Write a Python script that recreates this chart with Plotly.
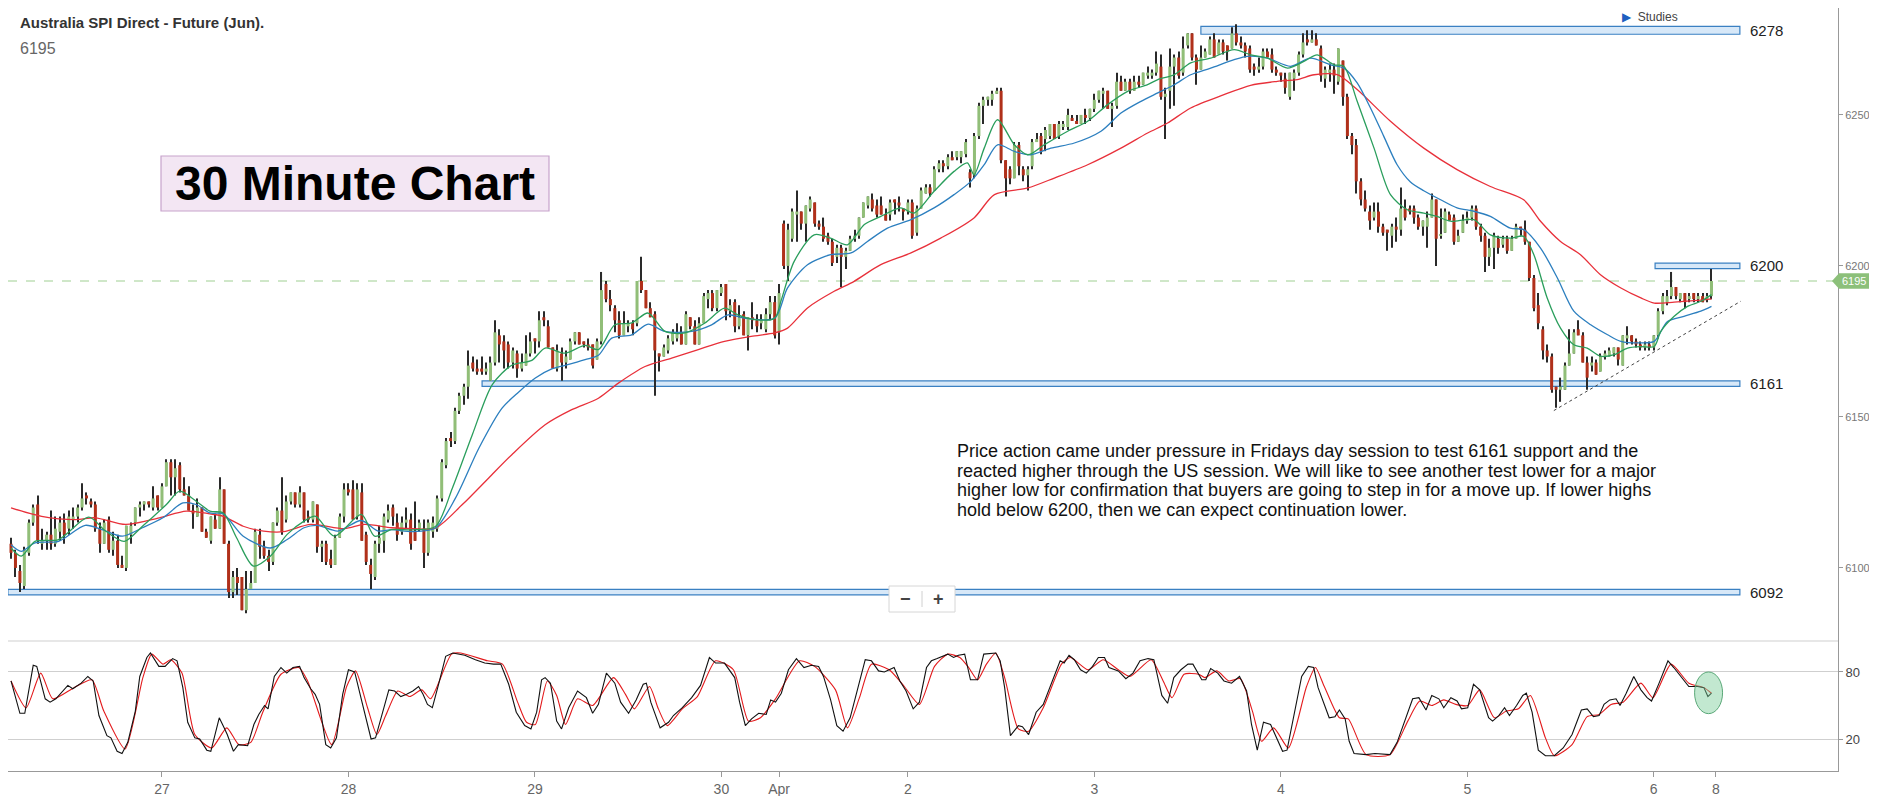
import plotly.graph_objects as go

# ---------------------------------------------------------------
# Australia SPI Direct - Future (Jun), 30 minute bars
# bar index 0..383, left to right
# ---------------------------------------------------------------
opens = [
    6108, 6105, 6099, 6094, 6105, 6115, 6121, 6108, 6109, 6111,
    6108, 6112, 6115, 6113, 6116, 6117, 6120, 6124, 6122, 6121,
    6113, 6108, 6116, 6106, 6109, 6101, 6100, 6111, 6115, 6120,
    6121, 6122, 6120, 6124, 6120, 6127, 6135, 6130, 6134, 6126,
    6124, 6119, 6117, 6120, 6112, 6109, 6116, 6113, 6126, 6108,
    6092, 6097, 6097, 6086, 6093, 6095, 6111, 6107, 6104, 6102,
    6115, 6119, 6116, 6122, 6125, 6121, 6125, 6117, 6116, 6121,
    6107, 6108, 6103, 6101, 6110, 6117, 6126, 6126, 6117, 6125,
    6111, 6101, 6097, 6108, 6109,
    6116, 6120, 6115, 6112, 6115, 6116, 6112, 6113, 6113, 6105,
    6112, 6113, 6123, 6134, 6143, 6142, 6152, 6157, 6160, 6168,
    6166, 6166, 6165, 6162, 6168, 6177, 6175, 6174, 6168, 6171,
    6166, 6167, 6171, 6176, 6175, 6183, 6180, 6173, 6166, 6171,
    6168, 6169, 6175, 6178, 6175, 6174, 6174, 6169, 6175, 6194,
    6189, 6186, 6182, 6177, 6180, 6181, 6181, 6195, 6192, 6186,
    6184, 6171, 6170, 6172, 6175, 6176, 6178, 6174, 6183, 6180,
    6174, 6181, 6189, 6191, 6186, 6191, 6194, 6185, 6188, 6180,
    6184, 6177, 6183, 6182, 6181, 6179, 6184, 6188,
    6178, 6214, 6200, 6209, 6217, 6218, 6214, 6219, 6221, 6214,
    6213, 6210, 6208, 6203, 6206, 6203, 6205, 6209, 6210, 6216,
    6220, 6222, 6220, 6220, 6217, 6217, 6222, 6221, 6219, 6218,
    6221, 6211, 6219, 6224, 6226, 6225, 6232, 6234, 6233, 6236,
    6236, 6236, 6237, 6231, 6230, 6243, 6253, 6255, 6255, 6257,
    6258, 6235, 6232, 6229, 6240, 6232, 6230, 6233, 6241, 6243,
    6242, 6243, 6247, 6243, 6246, 6246, 6249, 6248, 6247, 6250,
    6249, 6252, 6255, 6257, 6258, 6252, 6253, 6261, 6258, 6261,
    6258, 6261, 6260, 6263, 6263, 6264, 6266, 6256,
    6258, 6266, 6269, 6264, 6273, 6277, 6269, 6265, 6269, 6270,
    6275, 6270, 6274, 6273, 6272, 6277, 6274, 6273, 6272, 6266,
    6265, 6266, 6271, 6270, 6265, 6264, 6262, 6256, 6262, 6264,
    6270, 6275, 6274, 6275, 6272, 6262, 6264, 6265, 6261, 6268,
    6256, 6243, 6240, 6228, 6222, 6218, 6216, 6218, 6213, 6212,
    6210, 6213, 6212, 6219, 6219, 6219, 6216, 6213, 6213, 6216,
    6222, 6210, 6211, 6217, 6216, 6208, 6211, 6215, 6216, 6219,
    6213, 6210, 6203, 6206, 6209, 6207, 6209, 6205, 6209, 6213,
    6212, 6208, 6196,
    6187, 6179, 6172, 6170, 6160, 6159, 6159, 6167, 6171, 6179,
    6177, 6168, 6167, 6168, 6165, 6170, 6170, 6171, 6173, 6167,
    6176, 6177, 6175, 6174, 6173, 6174, 6173, 6177, 6185, 6188,
    6190, 6193, 6189, 6191, 6189, 6191, 6189, 6190, 6189, 6190,
]
highs = [
    6110, 6106, 6101, 6107, 6116, 6121, 6124, 6113, 6112, 6119,
    6117, 6117, 6118, 6119, 6120, 6121, 6128, 6125, 6123, 6122,
    6115, 6116, 6117, 6112, 6111, 6104, 6114, 6115, 6120, 6122,
    6122, 6122, 6127, 6124, 6128, 6136, 6136, 6136, 6135, 6130,
    6127, 6121, 6123, 6120, 6113, 6117, 6118, 6130, 6126, 6109,
    6099, 6100, 6097, 6099, 6099, 6113, 6113, 6109, 6106, 6115,
    6120, 6130, 6124, 6125, 6125, 6127, 6125, 6119, 6122, 6121,
    6109, 6109, 6106, 6111, 6118, 6128, 6128, 6129, 6128, 6128,
    6112, 6103, 6109, 6114, 6118,
    6121, 6121, 6118, 6117, 6120, 6118, 6122, 6116, 6116, 6116,
    6117, 6124, 6136, 6143, 6145, 6153, 6158, 6161, 6172, 6170,
    6169, 6170, 6168, 6170, 6182, 6179, 6177, 6175, 6173, 6172,
    6171, 6177, 6178, 6176, 6185, 6185, 6182, 6173, 6174, 6173,
    6172, 6176, 6178, 6178, 6175, 6176, 6174, 6176, 6198, 6195,
    6192, 6187, 6185, 6185, 6182, 6182, 6195, 6203, 6192, 6188,
    6185, 6171, 6174, 6177, 6179, 6181, 6180, 6185, 6183, 6182,
    6183, 6191, 6192, 6192, 6192, 6194, 6194, 6189, 6189, 6187,
    6185, 6183, 6188, 6184, 6184, 6186, 6190, 6190,
    6194, 6215, 6214, 6219, 6225, 6218, 6220, 6223, 6221, 6215,
    6216, 6211, 6209, 6207, 6207, 6206, 6210, 6212, 6216, 6221,
    6223, 6224, 6222, 6223, 6219, 6222, 6222, 6223, 6219, 6222,
    6222, 6220, 6226, 6227, 6227, 6233, 6235, 6235, 6237, 6238,
    6238, 6238, 6242, 6232, 6244, 6254, 6256, 6256, 6258, 6259,
    6259, 6235, 6233, 6241, 6241, 6233, 6233, 6242, 6244, 6244,
    6246, 6247, 6247, 6248, 6248, 6252, 6250, 6250, 6250, 6252,
    6252, 6257, 6258, 6259, 6258, 6254, 6264, 6263, 6262, 6262,
    6263, 6263, 6264, 6266, 6265, 6271, 6270, 6259,
    6272, 6270, 6271, 6276, 6277, 6277, 6270, 6273, 6272, 6276,
    6277, 6275, 6275, 6273, 6279, 6280, 6276, 6274, 6273, 6267,
    6269, 6272, 6272, 6272, 6266, 6264, 6264, 6264, 6265, 6271,
    6277, 6278, 6278, 6277, 6273, 6266, 6267, 6267, 6272, 6268,
    6257, 6244, 6242, 6229, 6225, 6220, 6221, 6221, 6214, 6212,
    6214, 6216, 6226, 6222, 6220, 6220, 6217, 6215, 6218, 6224,
    6222, 6219, 6219, 6218, 6217, 6212, 6217, 6218, 6220, 6220,
    6214, 6211, 6209, 6211, 6210, 6210, 6210, 6210, 6214, 6213,
    6215, 6208, 6197,
    6191, 6180, 6174, 6171, 6160, 6163, 6168, 6179, 6179, 6182,
    6178, 6170, 6170, 6169, 6171, 6172, 6173, 6173, 6173, 6177,
    6180, 6177, 6176, 6175, 6175, 6175, 6177, 6186, 6191, 6192,
    6198, 6193, 6191, 6191, 6191, 6191, 6191, 6191, 6191, 6199,
]
lows = [
    6103, 6097, 6092, 6093, 6104, 6114, 6108, 6106, 6106, 6106,
    6107, 6109, 6108, 6111, 6113, 6115, 6119, 6121, 6120, 6112,
    6105, 6108, 6105, 6104, 6100, 6100, 6099, 6108, 6114, 6117,
    6119, 6120, 6119, 6119, 6120, 6127, 6124, 6124, 6125, 6124,
    6119, 6113, 6117, 6112, 6110, 6108, 6113, 6113, 6108, 6090,
    6090, 6091, 6086, 6085, 6093, 6095, 6103, 6103, 6099, 6101,
    6114, 6111, 6115, 6121, 6120, 6120, 6115, 6115, 6115, 6105,
    6102, 6101, 6100, 6101, 6110, 6115, 6124, 6116, 6116, 6109,
    6101, 6093, 6096, 6105, 6105,
    6115, 6114, 6109, 6111, 6113, 6106, 6109, 6112, 6100, 6104,
    6110, 6112, 6122, 6133, 6140, 6141, 6151, 6154, 6156, 6165,
    6164, 6164, 6164, 6162, 6167, 6168, 6166, 6166, 6166, 6163,
    6165, 6167, 6170, 6171, 6173, 6180, 6173, 6166, 6165, 6162,
    6166, 6169, 6174, 6174, 6173, 6172, 6166, 6169, 6174, 6188,
    6185, 6178, 6176, 6177, 6178, 6177, 6180, 6191, 6186, 6183,
    6157, 6165, 6170, 6171, 6174, 6175, 6174, 6174, 6179, 6174,
    6174, 6181, 6186, 6185, 6185, 6190, 6182, 6183, 6178, 6179,
    6177, 6172, 6179, 6178, 6179, 6178, 6182, 6176,
    6174, 6199, 6195, 6208, 6208, 6212, 6208, 6218, 6213, 6212,
    6208, 6207, 6200, 6201, 6193, 6199, 6205, 6208, 6209, 6216,
    6219, 6218, 6216, 6217, 6215, 6215, 6217, 6218, 6215, 6217,
    6209, 6210, 6219, 6224, 6223, 6225, 6231, 6231, 6232, 6235,
    6235, 6234, 6236, 6226, 6229, 6242, 6247, 6253, 6253, 6257,
    6234, 6223, 6227, 6229, 6230, 6228, 6225, 6232, 6241, 6237,
    6238, 6242, 6242, 6242, 6245, 6245, 6248, 6247, 6247, 6247,
    6248, 6251, 6254, 6252, 6252, 6246, 6252, 6258, 6258, 6257,
    6258, 6259, 6260, 6262, 6262, 6263, 6255, 6242,
    6252, 6253, 6262, 6263, 6272, 6268, 6260, 6265, 6269, 6270,
    6269, 6270, 6270, 6268, 6272, 6273, 6272, 6269, 6264, 6263,
    6264, 6265, 6269, 6264, 6263, 6261, 6257, 6255, 6258, 6263,
    6269, 6273, 6274, 6273, 6261, 6259, 6261, 6257, 6260, 6253,
    6242, 6237, 6224, 6220, 6218, 6212, 6215, 6211, 6210, 6205,
    6206, 6208, 6210, 6215, 6217, 6214, 6212, 6210, 6206, 6216,
    6200, 6209, 6211, 6215, 6207, 6208, 6211, 6214, 6215, 6212,
    6208, 6198, 6200, 6199, 6204, 6206, 6204, 6205, 6209, 6210,
    6207, 6195, 6185,
    6179, 6169, 6168, 6158, 6153, 6155, 6159, 6167, 6171, 6177,
    6168, 6159, 6165, 6164, 6165, 6169, 6170, 6170, 6167, 6167,
    6174, 6174, 6173, 6172, 6172, 6172, 6172, 6176, 6184, 6187,
    6189, 6189, 6188, 6186, 6188, 6188, 6188, 6188, 6188, 6189,
]
closes = [
    6105, 6100, 6095, 6106, 6115, 6120, 6109, 6109, 6111, 6108,
    6113, 6115, 6111, 6117, 6117, 6120, 6123, 6123, 6121, 6113,
    6108, 6115, 6106, 6109, 6101, 6100, 6114, 6114, 6120, 6121,
    6122, 6121, 6123, 6120, 6127, 6135, 6130, 6133, 6126, 6124,
    6119, 6118, 6120, 6112, 6110, 6117, 6113, 6126, 6108, 6092,
    6097, 6095, 6086, 6093, 6095, 6112, 6107, 6104, 6102, 6115,
    6119, 6112, 6122, 6125, 6121, 6125, 6116, 6116, 6122, 6107,
    6108, 6102, 6101, 6110, 6117, 6126, 6125, 6116, 6126, 6109,
    6102, 6098, 6108, 6110, 6117,
    6119, 6117, 6111, 6115, 6116, 6108, 6109, 6115, 6105, 6115,
    6115, 6123, 6135, 6142, 6142, 6152, 6157, 6160, 6167, 6166,
    6165, 6165, 6166, 6168, 6178, 6174, 6172, 6168, 6172, 6166,
    6168, 6171, 6175, 6175, 6182, 6182, 6173, 6166, 6172, 6168,
    6170, 6175, 6178, 6174, 6174, 6173, 6167, 6175, 6192, 6189,
    6187, 6182, 6177, 6181, 6181, 6179, 6195, 6192, 6186, 6183,
    6172, 6170, 6173, 6176, 6178, 6178, 6174, 6184, 6180, 6174,
    6181, 6190, 6191, 6186, 6192, 6193, 6185, 6187, 6180, 6183,
    6177, 6183, 6182, 6180, 6182, 6184, 6188, 6177,
    6191, 6200, 6212, 6218, 6218, 6214, 6220, 6222, 6214, 6213,
    6209, 6208, 6201, 6206, 6203, 6205, 6209, 6210, 6216, 6221,
    6223, 6219, 6217, 6217, 6215, 6221, 6221, 6220, 6218, 6221,
    6210, 6219, 6225, 6226, 6224, 6232, 6234, 6233, 6236, 6235,
    6238, 6238, 6241, 6229, 6243, 6253, 6255, 6256, 6257, 6258,
    6235, 6229, 6229, 6240, 6233, 6230, 6232, 6241, 6242, 6238,
    6245, 6247, 6242, 6247, 6247, 6250, 6248, 6247, 6250, 6249,
    6252, 6255, 6258, 6258, 6252, 6253, 6261, 6258, 6261, 6258,
    6261, 6260, 6264, 6264, 6264, 6267, 6256, 6257,
    6266, 6269, 6263, 6272, 6277, 6269, 6265, 6269, 6271, 6275,
    6269, 6274, 6271, 6271, 6277, 6274, 6273, 6271, 6265, 6265,
    6266, 6271, 6269, 6265, 6264, 6263, 6259, 6264, 6264, 6270,
    6274, 6274, 6275, 6273, 6263, 6265, 6265, 6263, 6272, 6256,
    6243, 6240, 6228, 6222, 6219, 6215, 6218, 6213, 6211, 6211,
    6213, 6212, 6219, 6216, 6218, 6216, 6213, 6215, 6216, 6222,
    6209, 6210, 6218, 6215, 6208, 6210, 6215, 6216, 6219, 6213,
    6210, 6203, 6206, 6210, 6206, 6209, 6205, 6209, 6213, 6212,
    6208, 6196, 6186,
    6181, 6172, 6170, 6159, 6159, 6160, 6167, 6171, 6178, 6177,
    6168, 6163, 6168, 6164, 6170, 6171, 6172, 6173, 6169, 6177,
    6177, 6175, 6174, 6173, 6174, 6173, 6177, 6185, 6190, 6190,
    6193, 6190, 6191, 6188, 6190, 6189, 6190, 6188, 6190, 6195,
]

# moving averages (bar position, price)
ma_fast_x = [0, 2.3, 5.4, 10.7, 17.5, 21.3, 25.5, 29.6, 35.0, 38.0, 41.7, 44.8, 47.8, 50.8, 54.6,
             58.4, 62.2, 66.0, 68.6, 72.8, 78.9, 81.9, 85.7, 90.4, 95.6, 99.4, 103.9, 108.4, 112.8,
             117.3, 120.3, 124.8, 129.3, 132.3, 136.0, 139.8, 143.5, 147.3, 151.8, 156.3, 160.7,
             163.7, 167.5, 172.0, 173.4, 176.4, 180.9, 184.6, 188.4, 192.2, 195.9, 200.4, 203.4,
             207.9, 212.4, 215.4, 216.9, 219.2, 222.2, 226.0, 229.0, 232.7, 238.0, 242.5, 247.0,
             251.5, 256.0, 258.3, 262.0, 265.7, 270.2, 275.5, 279.2, 283.0, 287.5, 291.2, 294.2,
             298.0, 300.2, 303.2, 307.0, 310.7, 314.5, 318.2, 321.2, 324.2, 329.5, 333.2, 337.7,
             340.7, 343.0, 346.0, 349.0, 352.0, 355.0, 358.0, 361.1, 364.1, 367.1, 370.1, 371.6,
             374.6, 377.6, 380.6, 383.0]
ma_fast = [6106.6, 6103.9, 6108.8, 6109.4, 6116.8, 6112.2, 6108.8, 6113.8, 6121.0, 6125.4, 6122.1,
           6118.8, 6118.2, 6110.0, 6100.6, 6103.9, 6111.1, 6115.5, 6117.1, 6110.5, 6117.7, 6110.5,
           6112.7, 6112.6, 6113.7, 6126.4, 6144.1, 6160.7, 6167.1, 6168.7, 6172.8, 6171.1, 6173.7,
           6172.3, 6180.5, 6181.1, 6184.4, 6178.3, 6177.8, 6181.1, 6186.0, 6183.8, 6182.2, 6182.7,
           6188.3, 6201.5, 6210.3, 6209.2, 6207.0, 6213.7, 6216.4, 6219.2, 6217.5, 6224.7, 6231.3,
           6234.1, 6230.2, 6239.0, 6248.4, 6240.1, 6236.8, 6240.1, 6244.6, 6247.9, 6253.4, 6257.8,
           6260.0, 6261.7, 6263.3, 6267.2, 6268.8, 6271.6, 6269.9, 6268.8, 6265.5, 6267.7, 6269.9,
           6266.6, 6266.1, 6254.5, 6239.0, 6223.6, 6218.6, 6217.5, 6216.4, 6214.8, 6215.3, 6210.3,
           6209.2, 6209.8, 6203.7, 6189.4, 6179.4, 6173.9, 6172.8, 6170.1, 6170.6, 6172.8, 6173.3,
           6173.3, 6178.3, 6183.3, 6186.6, 6188.3, 6190.5]

ma_mid_x = [0, 2.3, 5.4, 10.7, 16.7, 20.5, 25.1, 29.6, 34.2, 38.7, 41.7, 44.8, 47.8, 52.3, 58.4,
            62.2, 66.0, 69.0, 73.6, 78.9, 82.7, 85.7, 90.4, 95.6, 100.1, 105.4, 110.6, 114.3, 118.1,
            121.8, 124.8, 129.3, 132.3, 135.3, 139.8, 143.5, 147.3, 153.3, 157.8, 161.5, 165.2,
            172.0, 174.9, 179.4, 184.6, 189.2, 192.9, 197.4, 202.7, 207.9, 212.4, 216.2, 219.2,
            222.2, 226.0, 229.7, 234.2, 239.5, 245.5, 250.0, 254.5, 258.3, 262.0, 265.7, 270.2,
            275.5, 278.5, 283.0, 288.2, 292.7, 297.2, 300.2, 303.2, 306.2, 309.2, 312.2, 315.2,
            318.2, 322.0, 325.7, 329.5, 333.2, 337.7, 340.7, 344.5, 348.3, 352.0, 355.8, 359.6,
            362.6, 367.1, 370.1, 373.1, 376.8, 380.6, 383.0]
ma_mid = [6107.7, 6105.5, 6108.3, 6108.8, 6114.1, 6112.7, 6110.5, 6113.3, 6116.6, 6121.5, 6121.0,
          6118.2, 6117.9, 6110.5, 6106.6, 6109.4, 6113.3, 6114.1, 6112.2, 6115.7, 6112.2, 6112.7,
          6112.0, 6113.2, 6123.1, 6139.7, 6152.9, 6158.2, 6162.9, 6165.9, 6167.1, 6169.0, 6170.4,
          6176.1, 6177.2, 6180.7, 6178.3, 6178.3, 6180.5, 6183.8, 6182.7, 6182.7, 6192.7, 6200.4,
          6203.7, 6204.3, 6208.1, 6212.5, 6215.3, 6219.2, 6223.6, 6228.0, 6233.5, 6240.1, 6237.9,
          6236.8, 6239.0, 6240.7, 6244.6, 6250.6, 6254.5, 6257.3, 6260.0, 6263.3, 6265.5, 6268.3,
          6269.4, 6268.8, 6266.1, 6268.8, 6266.6, 6265.5, 6260.6, 6252.3, 6242.9, 6233.5, 6227.8,
          6224.9, 6221.9, 6219.2, 6218.1, 6216.4, 6212.5, 6212.0, 6205.9, 6196.0, 6185.0, 6180.5,
          6177.2, 6175.0, 6174.5, 6175.0, 6181.6, 6183.3, 6185.0, 6186.6]

ma_slow_x = [0, 6.9, 14.5, 19.0, 25.8, 33.4, 39.5, 44.8, 47.8, 52.3, 56.9, 61.4, 67.5, 75.1, 79.6,
             85.7, 90.4, 95.6, 101.6, 107.6, 112.8, 120.3, 126.3, 132.3, 136.8, 142.8, 148.8,
             154.8, 160.7, 166.7, 172.0, 174.9, 179.4, 185.4, 189.9, 195.9, 202.7, 209.4, 216.9,
             221.5, 229.0, 235.0, 242.5, 250.0, 256.0, 260.5, 265.7, 273.2, 279.2, 285.2, 289.7,
             293.5, 298.7, 303.2, 310.7, 318.2, 325.7, 333.2, 340.7, 344.5, 349.0, 353.5, 358.0,
             362.6, 367.1, 370.1, 374.6, 379.1, 383.0]
ma_slow = [6119.9, 6117.1, 6116.0, 6116.6, 6114.4, 6116.6, 6118.8, 6117.9, 6117.1, 6113.8, 6112.2,
           6112.0, 6114.4, 6113.0, 6114.4, 6113.3, 6113.0, 6113.2, 6120.9, 6129.8, 6137.5, 6147.4,
           6152.4, 6156.2, 6161.2, 6166.7, 6169.5, 6172.3, 6175.0, 6176.7, 6177.8, 6179.4, 6186.1,
           6191.6, 6194.9, 6200.4, 6204.3, 6209.2, 6215.9, 6223.6, 6225.8, 6229.1, 6233.5, 6239.0,
           6244.0, 6247.3, 6252.3, 6256.7, 6259.8, 6261.1, 6261.7, 6263.3, 6263.3, 6258.4, 6247.9,
           6239.0, 6231.9, 6226.3, 6221.9, 6214.8, 6208.1, 6203.7, 6197.1, 6192.7, 6189.4, 6187.7,
           6188.0, 6188.5, 6189.1]

# stochastic oscillator (%K black, %D red), vertices
stoch_k_x = [0, 2.0, 3.1, 5.0, 5.8, 7.7, 8.8, 10.1, 12.8, 13.9,
             15.8, 17.3, 18.5, 19.8, 21.6, 22.5, 23.9, 25.0, 26.3, 28.0,
             29.0, 30.6, 31.4, 33.3, 34.7, 36.4, 37.4, 38.7, 39.8, 41.4,
             42.5, 44.1, 45.0, 46.9, 48.0, 48.7, 50.1, 51.2, 53.3, 54.7,
             55.8, 57.1, 57.9, 59.3, 60.8, 62.1, 63.5, 65.0, 66.0, 67.5,
             68.5, 69.5, 70.9, 72.0, 73.3, 74.7, 76.0, 77.4, 79.0, 80.1,
             81.1, 82.1, 83.7, 85.1, 86.4, 87.8, 89.1, 90.5, 91.8, 92.8,
             93.8, 94.9, 96.3, 97.9, 99.5, 101.3, 102.2, 104.6, 106.7, 108.7,
             110.3, 112.1, 113.8, 115.7, 117.1, 118.4, 119.5, 120.3, 121.5, 122.9,
             124.0, 125.6, 127.6, 129.6, 131.0, 132.3, 134.1, 136.0, 137.3, 139.1,
             140.8, 142.4, 143.1, 144.1, 146.2, 148.1, 149.2, 151.2, 153.3, 155.3,
             157.3, 158.7, 160.7, 163.0, 164.1, 165.4, 166.8, 168.4, 170.1, 171.1,
             172.2, 173.5, 175.1, 176.9, 178.6, 180.3, 181.9, 183.0, 184.6, 186.0,
             187.4, 189.0, 190.8, 192.4, 193.8, 195.4, 196.7, 198.9, 200.2, 201.6,
             203.2, 204.6, 206.2, 207.3, 208.6, 211.0,
             212.3, 213.4, 214.8, 216.1, 217.7, 219.1, 221.8, 222.8, 223.8, 225.1,
             226.9, 227.8, 229.2, 230.9, 232.5, 234.6, 236.3, 237.2, 238.3, 239.5,
             240.9, 242.2, 243.6, 244.9, 246.3, 247.3, 249.4, 251.1, 252.7, 254.3,
             256.1, 257.4, 259.2, 260.5, 261.9, 263.5, 265.1, 266.2, 268.2, 269.1,
             270.2, 271.8, 273.2, 274.9, 276.7, 278.3, 279.4, 280.7, 282.1, 283.7,
             285.0, 286.4, 287.4, 289.1, 290.7, 292.2, 293.4, 294.4, 296.9, 298.2,
             299.2, 300.5, 301.4, 302.5, 305.2, 307.2, 310.6, 312.2, 313.6, 315.7,
             317.1, 318.7, 320.0, 321.6, 322.7, 324.3, 325.7, 326.7, 328.1, 329.4,
             330.8, 332.8, 333.7, 335.1, 336.4, 337.5, 339.1, 340.5, 341.3, 342.6,
             344.0, 345.6, 347.6, 349.6, 351.6, 353.7, 355.0, 356.4, 357.7, 358.8,
             360.1, 361.5, 362.4, 363.8, 365.5, 367.1, 368.5, 369.5, 371.2, 372.5,
             373.2, 374.5, 376.3, 377.9, 379.9, 381.3, 382.2, 383.0]
stoch_k = [72, 43, 43, 86, 85, 56, 53, 56, 68, 65,
           70, 76, 72, 41, 23, 21, 9, 7, 17, 45,
           76, 93, 97, 85, 85, 92, 90, 66, 35, 21,
           20, 10, 9, 39, 30, 24, 9, 15, 14, 33,
           42, 50, 47, 76, 84, 79, 84, 85, 75, 65,
           60, 51, 15, 12, 21, 60, 82, 80, 54, 35,
           20, 21, 44, 64, 63, 58, 60, 63, 67, 60,
           51, 48, 69, 94, 97, 96, 95, 91, 88, 87,
           87, 69, 44, 32, 29, 44, 73, 75, 70, 36,
           29, 48, 63, 57, 43, 51, 79, 70, 53, 43,
           55, 69, 70, 53, 30, 35, 41, 48, 57, 68,
           93, 88, 88, 75, 53, 32, 38, 43, 42, 55,
           53, 61, 82, 92, 84, 86, 85, 76, 55, 32,
           27, 39, 67, 91, 90, 81, 80, 84, 72, 63,
           47, 53, 84, 90, 92, 96,
           93, 95, 96, 73, 73, 96, 97, 90, 66, 23,
           32, 31, 24, 44, 51, 72, 90, 88, 95, 91,
           82, 79, 85, 93, 93, 84, 81, 74, 79, 90,
           92, 91, 59, 52, 75, 82, 87, 87, 73, 73,
           83, 79, 72, 70, 76, 63, 33, 10, 35, 33,
           21, 9, 10, 45, 76, 85, 84, 66, 39, 40,
           46, 38, 18, 7, 6, 7, 6, 17, 33, 56,
           57, 46, 59, 56, 48, 57, 54, 47, 48, 69,
           64, 39, 36, 41, 48, 41, 50, 59, 61, 44,
           10, 5, 5, 12, 24, 46, 47, 40, 41, 51,
           55, 56, 50, 61, 76, 64, 57, 54, 70, 84,
           90, 84, 75, 67, 67, 66, 58, 61]
stoch_d_x = [0, 3.4, 6.7, 9.4, 14.2, 18.2, 20.9, 25.7, 29.7, 31.7,
             34.2, 36.0, 38.5, 41.4, 45.2, 48.6, 51.3, 54.0, 56.7, 60.8,
             64.8, 66.8, 72.2, 75.6, 77.6, 80.3, 82.4, 84.4, 87.1, 89.8,
             92.5, 94.5, 99.2, 101.3, 107.3, 110.7, 114.1, 116.1, 118.1, 120.8,
             122.9, 124.9, 127.6, 131.0, 135.7, 138.4, 140.4, 143.8, 145.8, 147.8,
             151.2, 154.6, 158.7, 162.7, 166.1, 168.8, 172.2, 177.6, 181.0, 185.7,
             188.4, 191.1, 193.8, 197.8, 201.2, 204.6, 208.0, 211.0,
             213.7, 215.7, 217.7, 219.7, 221.8, 223.8, 226.9, 229.2, 232.5, 236.6,
             238.6, 242.6, 246.0, 249.4, 252.0, 256.8, 259.5, 261.5, 264.2, 267.5,
             268.9, 271.6, 274.3, 276.9, 279.6, 281.7, 284.4, 287.7, 291.8, 293.8,
             295.8, 299.2, 301.2, 305.2, 310.6, 314.6, 317.3, 320.0, 322.7, 325.4,
             328.1, 330.8, 334.1, 336.8, 339.5, 342.2, 345.6, 347.6, 351.6, 355.0,
             357.7, 360.4, 363.1, 367.1, 369.8, 373.9, 377.9, 381.3, 383.0]
stoch_d = [72, 48, 79, 56, 66, 73, 45, 11, 75, 96,
           87, 91, 79, 24, 12, 30, 15, 17, 44, 78,
           84, 72, 15, 67, 81, 48, 24, 41, 63, 58,
           64, 56, 96, 97, 90, 87, 53, 35, 33, 72,
           59, 33, 56, 50, 75, 60, 47, 67, 47, 32,
           47, 58, 90, 82, 36, 39, 56, 90, 85, 64,
           30, 57, 87, 82, 67, 51, 85, 96,
           93, 84, 73, 87, 97, 75, 29, 27, 48, 87,
           93, 82, 91, 82, 76, 91, 72, 57, 78, 78,
           75, 81, 72, 74, 45, 18, 30, 12, 67, 84,
           67, 39, 38, 6, 6, 36, 54, 50, 55, 51,
           50, 64, 39, 45, 47, 59, 21, 5, 15, 40,
           42, 51, 53, 70, 57, 87, 70, 66, 61]

# drawn levels: value, first bar of the box
levels = [6278, 6200, 6161, 6092]
level_from = [268.0, 370.3, 106.1, -0.7]
level_to = 389.4
last_price = 6195

# dotted rising trend line under the lows
trend_x = [347.5, 389.6]
trend_y = [6152.1, 6188.3]

# session tick labels
tick_pos = [34, 76, 118, 160, 173, 202, 244, 286, 328, 370, 384]
tick_text = ["27", "28", "29", "30", "Apr", "2", "3", "4", "5", "6", "8"]

commentary = [
    "Price action came under pressure in Fridays day session to test 6161 support and the",
    "reacted higher through the US session. We will like to see another test lower for a major",
    "higher low for confirmation that buyers are going to step in for a move up. If lower highs",
    "hold below 6200, then we can expect continuation lower.",
]

# ---------------------------------------------------------------
PLOT_W, PLOT_H = 1830, 763
SPLIT = 130 / PLOT_H          # stochastic panel height share

FONT = "Liberation Sans, Arial, sans-serif"
FONT_NARROW = "Liberation Sans Narrow, Liberation Sans, Arial, sans-serif"

UP_COLOR = "#91be78"
DOWN_COLOR = "#b0301a"


def px(x):
    return x / PLOT_W


def py(y):
    return 1 - y / PLOT_H


idx = list(range(len(closes)))
body_base = [min(o, c) for o, c in zip(opens, closes)]
body_len = [max(abs(c - o), 0.4) for o, c in zip(opens, closes)]
body_col = [UP_COLOR if c >= o else DOWN_COLOR for o, c in zip(opens, closes)]
wick_len = [h - l for h, l in zip(highs, lows)]

fig = go.Figure()

fig.add_trace(go.Bar(x=idx, y=wick_len, base=lows, width=0.24,
                     marker=dict(color="#2a2a2a", line_width=0), hoverinfo="skip"))
fig.add_trace(go.Bar(x=idx, y=body_len, base=body_base, width=0.68,
                     marker=dict(color=body_col, line_width=0), hoverinfo="skip"))

for xs, ys, col in [(ma_slow_x, ma_slow, "#e8303a"),
                    (ma_mid_x, ma_mid, "#2c7fbf"),
                    (ma_fast_x, ma_fast, "#2a9e5c")]:
    fig.add_trace(go.Scatter(x=xs, y=ys, mode="lines",
                             line=dict(color=col, width=1.3, shape="spline", smoothing=0.8),
                             hoverinfo="skip"))

fig.add_trace(go.Scatter(x=trend_x, y=trend_y, mode="lines",
                         line=dict(color="#444", width=1, dash="dot"), hoverinfo="skip"))

fig.add_trace(go.Scatter(x=stoch_d_x, y=stoch_d, mode="lines", yaxis="y2",
                         line=dict(color="#e31a1c", width=1.1, shape="spline", smoothing=0.6),
                         hoverinfo="skip"))
fig.add_trace(go.Scatter(x=stoch_k_x, y=stoch_k, mode="lines", yaxis="y2",
                         line=dict(color="#111", width=1.1), hoverinfo="skip"))

shapes = []
for lv, x0 in zip(levels, level_from):
    half = 1.3 if lv == 6278 else 0.9
    shapes.append(dict(type="rect", xref="x", yref="y", x0=x0, x1=level_to,
                       y0=lv - half, y1=lv + half, layer="below",
                       fillcolor="#d7e8f8", line=dict(color="#3a80c2", width=1.2)))

shapes += [
    # current price line
    dict(type="line", xref="paper", yref="y", x0=0, x1=1, y0=last_price, y1=last_price,
         line=dict(color="#9fcf92", width=1, dash="dash"), layer="below"),
    # panel separator
    dict(type="line", xref="paper", yref="paper", x0=0, x1=1, y0=SPLIT, y1=SPLIT,
         line=dict(color="#cfcfcf", width=1)),
    # "30 Minute Chart" label box
    dict(type="rect", xref="paper", yref="paper", x0=px(153), x1=px(541), y0=py(203), y1=py(148),
         fillcolor="#f3e6f3", line=dict(color="#c7a3cc", width=1.2)),
    # zoom buttons box
    dict(type="rect", xref="paper", yref="paper", x0=px(881), x1=px(947), y0=py(604), y1=py(578),
         fillcolor="white", line=dict(color="#d6d6d6", width=1)),
    dict(type="line", xref="paper", yref="paper", x0=px(914), x1=px(914), y0=py(599), y1=py(583),
         line=dict(color="#d0d0d0", width=1)),
    # last price tag on the axis
    dict(type="path", xref="paper", yref="y",
         path=f"M {px(1824)},{last_price} L {px(1831)},{last_price + 2.6} L {px(1866)},{last_price + 2.6} "
              f"L {px(1866)},{last_price - 2.6} L {px(1831)},{last_price - 2.6} Z",
         fillcolor="#8cc07a", line=dict(width=0)),
    # highlight ellipse on the stochastic
    dict(type="circle", xref="x", yref="y2", x0=379.2, x1=385.5, y0=42.7, y1=80,
         fillcolor="rgba(120,205,150,0.45)", line=dict(color="#5aa878", width=1)),
]

ann = [
    dict(x=px(10), y=py(14), xref="paper", yref="paper", xanchor="left", yanchor="middle",
         text="<b>Australia SPI Direct - Future (Jun).</b>", showarrow=False,
         font=dict(family=FONT, size=15, color="#333")),
    dict(x=px(10), y=py(41), xref="paper", yref="paper", xanchor="left", yanchor="middle",
         text="6195", showarrow=False, font=dict(family=FONT, size=16, color="#666")),
    dict(x=px(347), y=py(176), xref="paper", yref="paper", xanchor="center", yanchor="middle",
         text="<b>30 Minute Chart</b>", showarrow=False, font=dict(family=FONT, size=48, color="#000")),
    dict(x=px(1846), y=last_price, xref="paper", yref="y", xanchor="center", yanchor="middle",
         text="6195", showarrow=False, font=dict(family=FONT, size=11, color="white")),
    dict(x=px(1612), y=py(9), xref="paper", yref="paper", xanchor="left", yanchor="middle",
         text="<span style='color:#1f5fc0'>\u25B6</span>  Studies", showarrow=False,
         font=dict(family=FONT, size=12, color="#444")),
    dict(x=px(897), y=py(591), xref="paper", yref="paper", xanchor="center", yanchor="middle",
         text="<b>\u2212</b>", showarrow=False, font=dict(family=FONT, size=18, color="#444")),
    dict(x=px(930), y=py(591), xref="paper", yref="paper", xanchor="center", yanchor="middle",
         text="<b>+</b>", showarrow=False, font=dict(family=FONT, size=18, color="#444")),
]
for lv in levels:
    ann.append(dict(x=px(1740), y=lv, xref="paper", yref="y", xanchor="left", yanchor="middle",
                    text=str(lv), showarrow=False, font=dict(family=FONT_NARROW, size=15, color="#222")))
for k, line in enumerate(commentary):
    ann.append(dict(x=px(947), y=py(443 + 19.7 * k), xref="paper", yref="paper",
                    xanchor="left", yanchor="middle", text=line, showarrow=False,
                    font=dict(family=FONT, size=18, color="#111")))

fig.update_layout(
    width=1877, height=796,
    margin=dict(l=0, r=47, t=0, b=33),
    paper_bgcolor="white", plot_bgcolor="white",
    showlegend=False, barmode="overlay",
    shapes=shapes, annotations=ann,
    xaxis=dict(domain=[0, 1], anchor="y2", range=[-0.68, 411.5],
               tickmode="array", tickvals=tick_pos, ticktext=tick_text,
               ticks="outside", ticklen=5, tickcolor="#999",
               showline=True, linecolor="#999", linewidth=1,
               showgrid=False, zeroline=False,
               tickfont=dict(family=FONT_NARROW, size=14, color="#666")),
    yaxis=dict(domain=[SPLIT, 1], anchor="x", side="right", range=[6075.8, 6285.4],
               tickvals=[6100, 6150, 6200, 6250], ticks="outside", ticklen=4, tickcolor="#999",
               showline=True, linecolor="#999", showgrid=False, zeroline=False,
               tickfont=dict(family=FONT, size=11, color="#777")),
    yaxis2=dict(domain=[0, SPLIT], anchor="x", side="right", range=[-8.65, 107.75],
                tickvals=[20, 80], ticks="outside", ticklen=4, tickcolor="#999",
                showline=True, linecolor="#999", showgrid=True, gridcolor="#cfcfcf",
                zeroline=False, tickfont=dict(family=FONT_NARROW, size=13, color="#444")),
)

fig.write_html("out.html")
